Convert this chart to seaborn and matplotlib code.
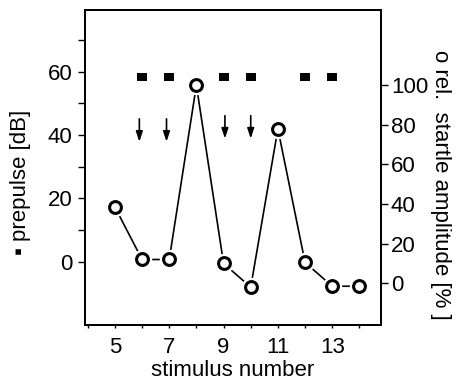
import numpy as np
import pandas as pd
import matplotlib
matplotlib.use("Agg")
import matplotlib.pyplot as plt
import seaborn as sns

# data
stimulus = [5, 6, 7, 8, 9, 10, 11, 12, 13, 14]
startle = [38.5, 12, 12, 100, 10, -2, 78, 10.5, -1.5, -1.5]   # rel. startle amplitude [%]
prepulse_stim = [6, 7, 9, 10, 12, 13]
prepulse_db = [58.3, 58.3, 58.3, 58.3, 58.3, 58.3]            # prepulse [dB]
arrow_stim = [5.9, 6.9, 9.05, 10.0]
arrow_top = [46, 46, 47, 47]
arrow_bottom = [37, 37, 38, 38]

df_st = pd.DataFrame({"stimulus": stimulus, "startle": startle})
df_pp = pd.DataFrame({"stimulus": prepulse_stim, "db": prepulse_db})

sns.set_style("ticks", {"text.color": "black", "axes.labelcolor": "black",
                        "xtick.color": "black", "ytick.color": "black",
                        "axes.edgecolor": "black"})
plt.rcParams["font.family"] = ["Liberation Sans", "DejaVu Sans"]
fs = 16

fig = plt.figure(figsize=(4.57, 3.89), dpi=100)
ax = fig.add_axes([0.186, 0.165, 0.648, 0.809])
ax2 = ax.twinx()

# prepulse marks (a bit wider than tall)
rect = [(-1, -0.72), (1, -0.72), (1, 0.72), (-1, 0.72), (-1, -0.72)]
sns.scatterplot(data=df_pp, x="stimulus", y="db", ax=ax, marker=rect, s=55,
                color="black", edgecolor="black", linewidth=0, zorder=3)

# arrows
for x, y0, y1 in zip(arrow_stim, arrow_top, arrow_bottom):
    ax.annotate("", xy=(x, y1), xytext=(x, y0),
                arrowprops=dict(arrowstyle="-|>,head_length=0.6,head_width=0.2",
                                color="black", lw=1.2))

# startle line with gaps round the circles
sns.lineplot(data=df_st, x="stimulus", y="startle", ax=ax2, color="black",
             lw=1.2, zorder=1)
ax2.plot(stimulus, startle, ls="none", marker="o", ms=13, mfc="white",
         mec="white", zorder=2)
ax2.plot(stimulus, startle, ls="none", marker="o", ms=8.5, mfc="white",
         mec="black", mew=2.2, zorder=3)

ax.set_xlim(3.9, 14.8)
ax.set_ylim(-20, 79.5)
ax2.set_ylim(-21, 138)

ax.set_xticks([5, 7, 9, 11, 13])
ax.set_xticks(range(4, 15), minor=True)
ax.set_yticks([0, 20, 40, 60])
ax.set_yticks([10, 30, 50, 70], minor=True)
ax2.set_yticks([0, 20, 40, 60, 80, 100])

for a in (ax, ax2):
    for s in a.spines.values():
        s.set_linewidth(1.4)
        s.set_color("black")
        s.set_visible(True)

ax.tick_params(axis="x", which="major", length=2, width=1, labelsize=fs, pad=7)
ax.tick_params(axis="x", which="minor", length=2, width=1)
ax.tick_params(axis="y", which="both", length=5, width=1, labelsize=fs, pad=4)
ax2.tick_params(axis="y", length=5, width=1, labelsize=fs, pad=2)

ax.set_xlabel("stimulus number", fontsize=fs, labelpad=1)
ax.set_ylabel("")
ax2.set_ylabel("")
fig.text(0.045, 0.53, "\u25aa prepulse [dB]", rotation=90, fontsize=fs,
         ha="center", va="center")
fig.text(0.963, 0.524, "o rel.  startle amplitude [% ]", rotation=-90, fontsize=fs,
         ha="center", va="center")

fig.savefig("out.png", dpi=100, facecolor="white")
